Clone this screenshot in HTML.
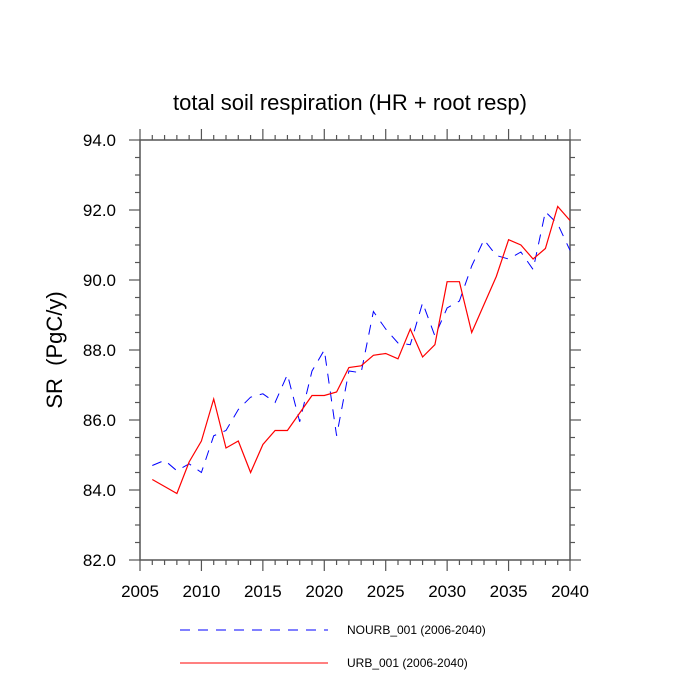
<!DOCTYPE html>
<html><head><meta charset="utf-8"><style>
body{margin:0;background:#fff;}
svg{display:block;font-family:"Liberation Sans",sans-serif;}
</style></head><body>
<svg id="chart" width="700" height="700" viewBox="0 0 700 700">
<text x="350" y="110" font-size="22" text-anchor="middle">total soil respiration (HR + root resp)</text>
<text transform="translate(62,350) rotate(-90)" font-size="22" text-anchor="middle" style="white-space:pre" xml:space="preserve">SR  (PgC/y)</text>
<g id="axes"></g>
<g id="series"></g>
<g>
<line x1="180" y1="630" x2="328" y2="630" stroke="#00f" stroke-width="1" stroke-dasharray="10,8"/>
<text x="347" y="634" font-size="12">NOURB_001 (2006-2040)</text>
<line x1="180" y1="663" x2="328" y2="663" stroke="#f00" stroke-width="1"/>
<text x="347" y="667" font-size="12">URB_001 (2006-2040)</text>
</g>
</svg>
<script>
const years = [2006,2007,2008,2009,2010,2011,2012,2013,2014,2015,2016,2017,2018,2019,2020,2021,2022,2023,2024,2025,2026,2027,2028,2029,2030,2031,2032,2033,2034,2035,2036,2037,2038,2039,2040];
const urb = [84.3,84.1,83.9,84.8,85.4,86.6,85.2,85.4,84.5,85.3,85.7,85.7,86.2,86.7,86.7,86.8,87.5,87.55,87.85,87.9,87.75,88.6,87.8,88.15,89.95,89.95,88.5,89.3,90.1,91.15,91.0,90.6,90.9,92.1,91.7];
const nourb = [84.7,84.85,84.55,84.75,84.5,85.55,85.7,86.3,86.65,86.75,86.5,87.3,85.95,87.4,88.0,85.55,87.4,87.35,89.1,88.6,88.2,88.15,89.35,88.4,89.2,89.4,90.4,91.15,90.7,90.6,90.8,90.3,91.95,91.6,90.85];
const xTicks = [2005,2010,2015,2020,2025,2030,2035,2040];
const yTicks = [82,84,86,88,90,92,94];
const yTickLabels = ["82.0","84.0","86.0","88.0","90.0","92.0","94.0"];
const L=140,R=570,T=140,B=560;
function xs(v){return L+(v-2005)/35*(R-L);}
function ys(v){return B-(v-82)/12*(B-T);}
const NS="http://www.w3.org/2000/svg";
const ax=document.getElementById('axes');
function mk(tag,attrs,parent){const e=document.createElementNS(NS,tag);for(const k in attrs)e.setAttribute(k,attrs[k]);parent.appendChild(e);return e;}
const frame=mk('rect',{x:L,y:T,width:R-L,height:B-T,fill:'none',stroke:'#555','stroke-width':1.5},ax);


for(let yr=2005;yr<=2040;yr++){
  const major=xTicks.includes(yr);const len=major?11:5;const x=xs(yr);
  const t1=mk('line',{x1:x,y1:B,x2:x,y2:B+len,stroke:'#555','stroke-width':1.2},ax);
  
  
  const t2=mk('line',{x1:x,y1:T,x2:x,y2:T-len,stroke:'#555','stroke-width':1.2},ax);
  
  
}
xTicks.forEach(v=>{
  const t=mk('text',{x:xs(v),y:B+37,'font-size':17,'text-anchor':'middle'},ax);t.textContent=v;
  
  
});
for(let i=0;i<=24;i++){
  const v=82+i*0.5;const major=(i%4===0);const len=major?11:5;const y=ys(v);
  const t1=mk('line',{x1:L,y1:y,x2:L-len,y2:y,stroke:'#555','stroke-width':1.2},ax);
  
  
  const t2=mk('line',{x1:R,y1:y,x2:R+len,y2:y,stroke:'#555','stroke-width':1.2},ax);
  
  
}
yTicks.forEach((v,i)=>{
  const t=mk('text',{x:L-24,y:ys(v)+6,'font-size':17,'text-anchor':'end'},ax);t.textContent=yTickLabels[i];
  
  
});
const sg=document.getElementById('series');
function pts(arr){return arr.map((v,i)=>xs(years[i]).toFixed(1)+','+ys(v).toFixed(1)).join(' ');}
const pn=mk('polyline',{points:pts(nourb),fill:'none',stroke:'#00f','stroke-width':1,'stroke-dasharray':'10,8'},sg);


const pu=mk('polyline',{points:pts(urb),fill:'none',stroke:'#f00','stroke-width':1.2},sg);


</script>
</body></html>
